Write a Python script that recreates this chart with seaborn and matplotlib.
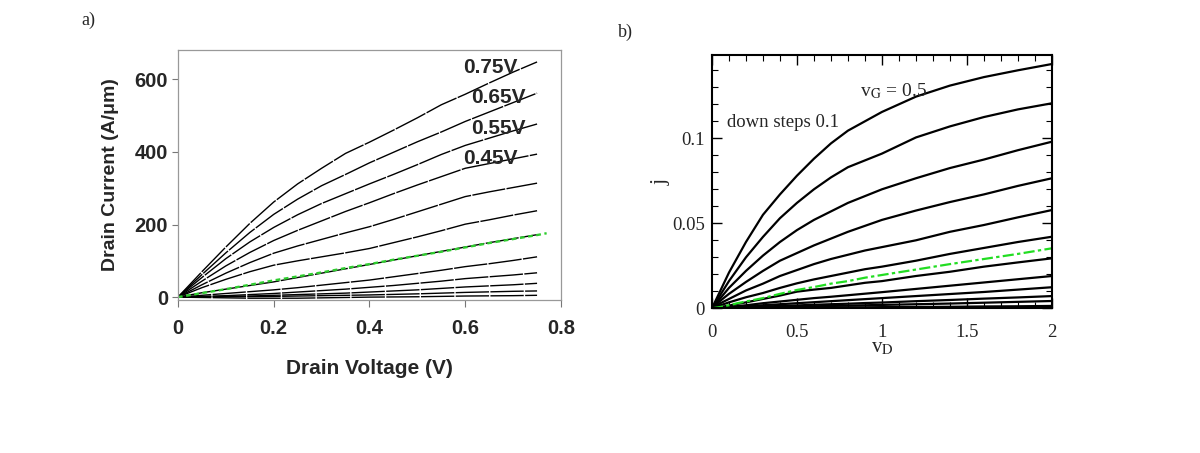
import numpy as np
import pandas as pd
import matplotlib
matplotlib.use("Agg")
import matplotlib.pyplot as plt
import seaborn as sns
from matplotlib.ticker import MultipleLocator
from matplotlib.font_manager import FontProperties

sns.set_style("white")
plt.rcParams['mathtext.fontset'] = 'stix'

# ---------------- Panel a data ----------------
va = [0, 0.05, 0.1, 0.15, 0.2, 0.25, 0.3, 0.35, 0.4, 0.45, 0.5, 0.55, 0.6, 0.65, 0.7, 0.75]
a_curves = [
    [0, 70, 138, 203, 262, 312, 355, 396, 427, 460, 494, 530, 559, 590, 620, 648],
    [0, 62, 122, 178, 228, 270, 307, 338, 370, 399, 428, 455, 484, 510, 536, 562],
    [0, 54, 106, 152, 192, 227, 258, 285, 312, 338, 365, 393, 418, 438, 458, 477],
    [0, 44, 86, 123, 156, 184, 210, 236, 260, 285, 309, 332, 355, 368, 381, 394],
    [0, 34, 66, 95, 121, 141, 159, 177, 194, 214, 235, 256, 277, 290, 302, 314],
    [0, 26, 49, 70, 88, 100, 111, 122, 134, 150, 166, 183, 201, 213, 226, 238],
    [0, 12, 22, 32, 42, 54, 66, 78, 90, 102, 114, 126, 138, 150, 161, 172],
    [0, 5, 10, 15, 20, 26, 33, 40, 47, 56, 65, 74, 84, 92, 101, 111],
    [0, 2, 4, 7, 10, 14, 18, 22, 27, 32, 38, 44, 51, 56, 61, 67],
    [0, 1, 2, 3, 5, 7, 9, 11, 14, 17, 20, 24, 28, 31, 34, 38],
    [0, 0.5, 1, 1.5, 2, 3, 4, 5, 6, 7.5, 9, 11, 13, 14.5, 16, 17],
    [0, -1, -2, -3, -3, -3, -2, -1, 0, 0.5, 1, 2, 3, 3.5, 4, 5],
]
va_green = [0, 0.05, 0.1, 0.15, 0.2, 0.25, 0.3, 0.35, 0.4, 0.45, 0.5, 0.55, 0.6, 0.65, 0.7, 0.75, 0.77]
a_green = [0, 11, 22, 34, 46, 57, 68, 80, 91, 103, 114, 125, 137, 149, 160, 171, 176]
a_labels = ["0.75V", "0.65V", "0.55V", "0.45V"]
a_xticks = [0, 0.2, 0.4, 0.6, 0.8]
a_xticklabels = ["0", "0.2", "0.4", "0.6", "0.8"]
a_yticks = [0, 200, 400, 600]

# ---------------- Panel b data ----------------
vb = [0, 0.05, 0.1, 0.15, 0.2, 0.3, 0.4, 0.5, 0.6, 0.7, 0.8, 0.9, 1.0, 1.2, 1.4, 1.6, 1.8, 2.0]
b_curves = [
    [0, 0.0105, 0.021, 0.030, 0.039, 0.055, 0.067, 0.078, 0.088, 0.097, 0.1045, 0.110, 0.1155, 0.1245, 0.131, 0.136, 0.140, 0.1437],
    [0, 0.008, 0.016, 0.023, 0.030, 0.042, 0.053, 0.062, 0.070, 0.077, 0.083, 0.087, 0.091, 0.1005, 0.107, 0.1125, 0.117, 0.1206],
    [0, 0.006, 0.012, 0.017, 0.022, 0.031, 0.039, 0.046, 0.052, 0.057, 0.062, 0.066, 0.070, 0.0765, 0.0825, 0.0875, 0.093, 0.098],
    [0, 0.0045, 0.0085, 0.012, 0.0155, 0.022, 0.028, 0.0325, 0.037, 0.041, 0.045, 0.0485, 0.052, 0.0575, 0.0625, 0.067, 0.072, 0.0765],
    [0, 0.003, 0.0055, 0.008, 0.0105, 0.0145, 0.019, 0.0225, 0.026, 0.029, 0.0315, 0.034, 0.036, 0.040, 0.045, 0.049, 0.0535, 0.0578],
    [0, 0.0018, 0.0035, 0.005, 0.0065, 0.009, 0.012, 0.0147, 0.017, 0.019, 0.021, 0.023, 0.0245, 0.028, 0.032, 0.0355, 0.039, 0.0421],
    [0, 0.0008, 0.0016, 0.0026, 0.0035, 0.0055, 0.0075, 0.0098, 0.011, 0.012, 0.0135, 0.015, 0.016, 0.019, 0.0215, 0.0245, 0.027, 0.0294],
    [0, 0.0004, 0.0008, 0.0013, 0.0018, 0.003, 0.004, 0.005, 0.006, 0.0068, 0.0077, 0.0086, 0.0095, 0.0114, 0.0133, 0.0152, 0.0171, 0.019],
    [0, 0.0002, 0.0005, 0.0008, 0.0011, 0.0018, 0.0024, 0.003, 0.0036, 0.0042, 0.0048, 0.0054, 0.006, 0.0072, 0.0084, 0.0096, 0.011, 0.0124],
    [0, 0.0001, 0.0003, 0.0005, 0.0007, 0.001, 0.0014, 0.0017, 0.0021, 0.0024, 0.0027, 0.0031, 0.0034, 0.0042, 0.0049, 0.0057, 0.0064, 0.0072],
    [0, 0.0001, 0.0002, 0.0003, 0.0004, 0.0006, 0.0008, 0.001, 0.0012, 0.0014, 0.0016, 0.0018, 0.002, 0.0024, 0.0028, 0.0033, 0.0038, 0.0043],
    [0, 0, 0.0001, 0.0001, 0.0002, 0.0003, 0.0003, 0.0004, 0.0005, 0.0005, 0.0006, 0.0006, 0.0007, 0.0008, 0.0009, 0.0011, 0.0012, 0.0014],
]
b_green = [0, 0.0008, 0.0018, 0.003, 0.004, 0.006, 0.0085, 0.0108, 0.0125, 0.0145, 0.016, 0.018, 0.0196, 0.0228, 0.026, 0.029, 0.032, 0.0353]
b_xticks = [0, 0.5, 1, 1.5, 2]
b_xticklabels = ["0", "0.5", "1", "1.5", "2"]
b_yticks = [0, 0.05, 0.1]
b_yticklabels = ["0", "0.05", "0.1"]

fig = plt.figure(figsize=(12, 4.53), dpi=100)

# ================= Panel a =================
axa = fig.add_axes([0.1483, 0.3377, 0.3192, 0.552])
sansb = dict(family="Liberation Sans", weight="bold")
for c in a_curves:
    sns.lineplot(x=va, y=c, ax=axa, color="black", lw=1.0, estimator=None, sort=False,
                 linestyle=(0, (24, 1.0)))
sns.lineplot(x=va_green, y=a_green, ax=axa, color="#2ecc2e", lw=1.7,
             linestyle=(0, (2, 1.5)), estimator=None, sort=False)
axa.set_xlim(0, 0.8)
axa.set_ylim(-8, 681)
axa.set_xticks(a_xticks)
axa.set_xticklabels(a_xticklabels)
axa.set_yticks(a_yticks)
axa.set_yticklabels([str(t) for t in a_yticks])
for lab in axa.get_xticklabels() + axa.get_yticklabels():
    lab.set_fontproperties(FontProperties(family="Liberation Sans", weight="bold", size=14.5))
axa.tick_params(axis="both", direction="out", width=0.8, color="#777777",
                bottom=True, left=True)
axa.tick_params(axis="x", length=5, pad=9)
axa.tick_params(axis="y", length=4, pad=3)
for s in axa.spines.values():
    s.set_color("#999999")
    s.set_linewidth(0.9)
axa.set_xlabel("Drain Voltage (V)", fontsize=15, labelpad=15, **sansb)
axa.set_ylabel("Drain Current (A/\u03bcm)", fontsize=14, labelpad=11, **sansb)
label_pos = [(0.595, 645), (0.612, 562), (0.612, 477), (0.595, 394)]
for (lx, ly), t in zip(label_pos, a_labels):
    axa.text(lx, ly - 12, t, fontsize=15, ha="left", va="center", **sansb)
fig.text(88 / 1200, 1 - 20 / 453, "a)", fontsize=13, family="Liberation Serif",
         ha="center", va="center")

# ================= Panel b =================
axb = fig.add_axes([0.5933, 0.3194, 0.2833, 0.5592])
for c in b_curves:
    sns.lineplot(x=vb, y=c, ax=axb, color="black", lw=1.6, estimator=None, sort=False)
sns.lineplot(x=vb, y=b_green, ax=axb, color="#22dd22", lw=1.6,
             linestyle=(0, (5, 1.5, 1.5, 1.5)), estimator=None, sort=False)
axb.set_xlim(0, 2)
axb.set_ylim(0, 0.149)
axb.set_xticks(b_xticks)
axb.set_xticklabels(b_xticklabels)
axb.set_yticks(b_yticks)
axb.set_yticklabels(b_yticklabels)
axb.xaxis.set_minor_locator(MultipleLocator(0.1))
axb.yaxis.set_minor_locator(MultipleLocator(0.01))
for lab in axb.get_xticklabels() + axb.get_yticklabels():
    lab.set_fontproperties(FontProperties(family="Liberation Serif", size=13.5))
axb.tick_params(which="both", direction="in", top=True, right=True, bottom=True, left=True,
                color="black")
axb.tick_params(which="major", length=7, width=1.0)
axb.tick_params(axis="x", which="major", pad=11)
axb.tick_params(axis="y", which="major", pad=5)
axb.tick_params(which="minor", length=4, width=0.8)
for s in axb.spines.values():
    s.set_color("black")
    s.set_linewidth(1.5)
axb.set_xlabel("v$_\\mathrm{D}$", fontsize=15, family="Liberation Serif")
axb.xaxis.set_label_coords(0.5, -0.118)
axb.set_ylabel("j", fontsize=16, family="Liberation Serif")
axb.yaxis.set_label_coords(-0.12, 0.5)
axb.text(0.088, 0.109, "down steps 0.1", fontsize=13.5, family="Liberation Serif",
         ha="left", va="center")
axb.text(0.87, 0.128, "v$_\\mathrm{G}$ = 0.5", fontsize=14, family="Liberation Serif",
         ha="left", va="center")
fig.text(625 / 1200, 1 - 32 / 453, "b)", fontsize=13, family="Liberation Serif",
         ha="center", va="center")

fig.savefig("out.png", dpi=100)
